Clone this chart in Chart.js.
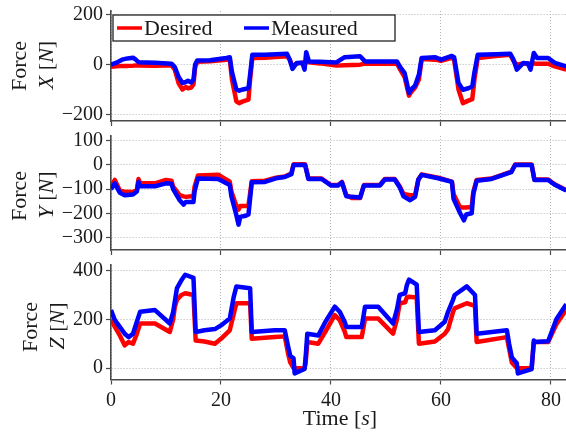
<!DOCTYPE html>
<html>
<head>
<meta charset="utf-8">
<script src="https://cdn.jsdelivr.net/npm/chart.js@4.4.1/dist/chart.umd.min.js"></script>
<style>
  html, body { margin: 0; padding: 0; background: #fff; }
  #wrap { position: relative; width: 566px; height: 433px; }
  #wrap canvas { position: absolute; left: 0; top: 0; }
</style>
</head>
<body>
<div id="wrap">
  <canvas id="chartX" width="566" height="433"></canvas>
  <canvas id="chartY" width="566" height="433"></canvas>
  <canvas id="chartZ" width="566" height="433"></canvas>
</div>
<script>
// ---- data (time in s, force in N) ----
const timeX = [0, 1, 2, 3, 4, 4.5, 5, 8, 11, 11.6, 12.3, 13, 13.6, 14, 14.6, 15, 15.3, 15.7, 18, 21, 21.6, 22, 22.8, 23.3, 24, 25, 25.3, 25.7, 28, 32, 32.5, 33, 33.8, 34.8, 35.2, 35.5, 36, 38, 41, 42.5, 45.3, 46.2, 52, 52.6, 53.4, 54.2, 54.6, 55.3, 56, 56.5, 59, 60, 62, 62.4, 63.2, 64, 65, 65.7, 66.1, 66.7, 70, 72.6, 73.2, 73.8, 75, 75.8, 76.3, 76.9, 77.5, 79.5, 80.7, 82.8];
const desiredX = [-9, -7, -5, -5, -4, -3, -3, -5, -2, -20, -75, -100, -90, -95, -92, -80, -10, 12, 14, 20, 22, -60, -148, -155, -148, -141, -60, 27, 28, 34, 20, -7, 5, 8, 8, 10, 10, 5, -4, -2, 0, 4, 5, -20, -50, -125, -110, -92, -60, 23, 20, 15, 27, 20, -100, -155, -145, -139, -60, 27, 35, 40, 15, 0, 5, 5, 5, 5, 4, 4, -7, -20];
const measuredX = [0, 8, 20, 25, 28, 20, 10, 8, 4, -10, -50, -74, -70, -65, -72, -60, 0, 17, 18, 27, 30, -30, -100, -105, -100, -95, -40, 40, 40, 44, 20, -17, 7, 8, -20, 50, 13, 12, 9, 30, 34, 13, 13, -10, -34, -114, -100, -85, -40, 27, 30, 20, 35, 30, -74, -101, -95, -88, -30, 40, 42, 44, 20, -20, 7, 5, -20, 47, 27, 27, 7, -7];

const timeY = [0, 0.7, 1.6, 2.5, 4, 4.7, 5, 5.3, 8, 10, 11, 11.3, 12.5, 13.2, 13.6, 15, 15.2, 15.8, 19.5, 21.6, 21.9, 22.8, 23.2, 23.5, 24.5, 25, 25.6, 28, 30, 31.6, 32.8, 33.2, 35.3, 35.9, 38.3, 40, 41.3, 42, 42.8, 43.8, 45.3, 46, 48.9, 49.8, 51.6, 52.5, 53.2, 54.4, 55.3, 55.9, 56.5, 59.5, 62, 62.3, 63.5, 64.2, 64.6, 65.6, 65.9, 66.5, 69.2, 72.8, 73.5, 76.5, 77, 79.5, 80.7, 82.8];
const desiredY = [-88, -62, -105, -111, -112, -104, -58, -76, -76, -62, -65, -90, -125, -130, -132, -128, -90, -44, -40, -69, -110, -170, -185, -170, -170, -168, -67, -65, -53, -48, -35, 3, 3, -56, -56, -83, -83, -70, -125, -137, -137, -83, -83, -58, -58, -88, -120, -125, -125, -60, -39, -53, -69, -120, -176, -176, -176, -174, -110, -62, -56, -28, 2, 2, -60, -60, -80, -104];
const measuredY = [-100, -76, -115, -125, -122, -110, -70, -88, -88, -76, -78, -100, -146, -164, -153, -153, -110, -56, -58, -83, -130, -208, -247, -215, -210, -205, -72, -70, -55, -50, -38, 0, 0, -58, -58, -85, -85, -72, -130, -132, -135, -85, -85, -60, -60, -92, -130, -146, -132, -60, -41, -55, -70, -140, -200, -229, -205, -200, -120, -65, -58, -30, 0, 0, -62, -62, -82, -106];

const timeZ = [0, 0.7, 1.6, 2.5, 3.2, 4, 4.7, 5.3, 8, 10.7, 11.3, 11.6, 12, 12.8, 13.5, 15, 15.4, 17, 18.9, 20, 21.6, 22.3, 22.8, 25.3, 25.6, 29.8, 31.6, 32.2, 32.6, 33.2, 33.4, 35.2, 35.4, 35.7, 37.7, 39, 40.7, 41.6, 42.5, 42.8, 45.6, 46.2, 48.6, 51.3, 52, 52.5, 53.5, 53.8, 54.2, 55.6, 56, 58.9, 60.7, 61.3, 62.2, 62.5, 64.7, 66.2, 66.5, 72, 72.4, 72.9, 73.8, 74, 76.5, 76.9, 77.1, 79.5, 81, 82.8];
const desiredZ = [200, 169, 134, 93, 107, 100, 140, 183, 183, 148, 200, 250, 280, 300, 307, 300, 113, 109, 100, 120, 155, 220, 266, 266, 120, 127, 130, 60, 23, 0, -1, -1, 20, 107, 100, 150, 217, 197, 150, 127, 127, 203, 203, 141, 200, 266, 270, 290, 293, 290, 100, 109, 141, 160, 230, 245, 266, 255, 107, 127, 80, 23, 0, -1, 0, 107, 107, 107, 180, 240];
const measuredZ = [238, 197, 169, 141, 127, 141, 190, 231, 238, 183, 230, 273, 328, 360, 383, 370, 148, 155, 160, 175, 203, 290, 335, 328, 148, 155, 155, 90, 50, 40, -22, -4, 44, 141, 134, 190, 252, 231, 190, 169, 169, 252, 252, 183, 240, 300, 307, 340, 363, 342, 148, 155, 190, 231, 280, 300, 335, 300, 141, 155, 100, 44, 20, -22, -4, 113, 107, 110, 200, 262];

const xTicks = [0, 20, 40, 60, 80];
const yTicksX = [-200, 0, 200];
const yTicksY = [-300, -200, -100, 0, 100];
const yTicksZ = [0, 200, 400];
const seriesNames = ['Desired', 'Measured'];

const FONT = '"Liberation Serif", "Times New Roman", serif';
const TEXT = '#1a1a1a';
const AXIS = '#4a4a4a';
const GRID = '#b4b4b4';
const RED = '#ff0000';
const BLUE = '#0000ff';
const W = 566, H = 433;
const PLOT_LEFT = 111;

function pairs(t, v) {
  return t.map((x, i) => ({ x: x, y: v[i] }));
}

function minusLabel(v) {
  return v < 0 ? '\u2212' + Math.abs(v) : String(v);
}

// draws a label made of upright/italic pieces, centred on (cx, cy)
function drawParts(ctx, parts, cx, cy, angle, size) {
  ctx.save();
  ctx.translate(cx, cy);
  ctx.rotate(angle);
  ctx.textBaseline = 'middle';
  ctx.textAlign = 'left';
  ctx.fillStyle = TEXT;
  const fonts = parts.map(p => (p[1] ? 'italic ' : '') + size + 'px ' + FONT);
  let total = 0;
  parts.forEach((p, k) => { ctx.font = fonts[k]; total += ctx.measureText(p[0]).width; });
  let x = -total / 2;
  parts.forEach((p, k) => { ctx.font = fonts[k]; ctx.fillText(p[0], x, 0); x += ctx.measureText(p[0]).width; });
  ctx.restore();
}

const labelPlugin = {
  id: 'labels',
  afterDraw(chart) {
    const ctx = chart.ctx;
    const o = chart.options.plugins.labels;
    (o.items || []).forEach(it => drawParts(ctx, it.parts, it.x, it.y, it.angle || 0, it.size));
    if (o.legend) {
      const b = o.legend;
      ctx.save();
      ctx.fillStyle = '#fff';
      ctx.fillRect(b.x, b.y, b.w, b.h);
      ctx.strokeStyle = '#222';
      ctx.lineWidth = 1.3;
      ctx.strokeRect(b.x, b.y, b.w, b.h);
      const cy = b.y + b.h / 2;
      const ds = chart.data.datasets;
      const order = [1, 0];
      const lx = [b.x + 4, b.x + 131];
      order.forEach((di, k) => {
        ctx.strokeStyle = ds[di].borderColor;
        ctx.lineWidth = 3.5;
        ctx.beginPath();
        ctx.moveTo(lx[k], cy);
        ctx.lineTo(lx[k] + 25, cy);
        ctx.stroke();
        ctx.fillStyle = TEXT;
        ctx.font = '22px ' + FONT;
        ctx.textBaseline = 'middle';
        ctx.textAlign = 'left';
        ctx.fillText(ds[di].label, lx[k] + 27, cy + 1);
      });
      ctx.restore();
    }
  }
};

function makeChart(id, p) {
  const axisH = p.xLabels ? 40 : 6;
  return new Chart(document.getElementById(id), {
    type: 'line',
    data: {
      datasets: [
        { label: seriesNames[1], data: pairs(p.t, p.meas), borderColor: BLUE, borderWidth: 4.5, pointRadius: 0, tension: 0, borderJoinStyle: 'round', order: 0 },
        { label: seriesNames[0], data: pairs(p.t, p.des), borderColor: RED, borderWidth: 4.5, pointRadius: 0, tension: 0, borderJoinStyle: 'round', order: 1 }
      ]
    },
    options: {
      responsive: false,
      animation: false,
      events: [],
      layout: { padding: { left: 0, right: 0, top: p.top, bottom: H - p.bottom - axisH } },
      scales: {
        x: {
          type: 'linear',
          min: 0,
          max: 82.75,
          afterBuildTicks: s => { s.ticks = xTicks.map(v => ({ value: v })); },
          afterFit: s => { s.height = axisH; s.paddingLeft = 0; s.paddingRight = 0; },
          grid: { color: GRID, lineWidth: 1, tickLength: 5, tickColor: AXIS, tickWidth: 1.2, tickBorderDash: [] },
          border: { color: AXIS, width: 1.6, dash: [1, 2] },
          ticks: { display: p.xLabels, color: TEXT, font: { family: FONT, size: 20 }, padding: 4, maxRotation: 0 }
        },
        y: {
          type: 'linear',
          min: p.yMin,
          max: p.yMax,
          afterBuildTicks: s => { s.ticks = p.yTicks.map(v => ({ value: v })); },
          afterFit: s => { s.width = PLOT_LEFT; s.paddingTop = 0; s.paddingBottom = 0; },
          grid: { color: GRID, lineWidth: 1, tickLength: 5, tickColor: AXIS, tickWidth: 1.2, tickBorderDash: [] },
          border: { color: AXIS, width: 1.6, dash: [1, 2] },
          ticks: { color: TEXT, font: { family: FONT, size: 20 }, padding: 3, callback: minusLabel }
        }
      },
      plugins: {
        legend: { display: false },
        tooltip: { enabled: false },
        labels: { items: p.items, legend: p.legend }
      }
    },
    plugins: [labelPlugin]
  });
}

const up = -Math.PI / 2;

makeChart('chartX', {
  t: timeX, des: desiredX, meas: measuredX,
  top: 11, bottom: 121, yMin: -227, yMax: 216, yTicks: yTicksX, xLabels: false,
  items: [
    { parts: [['Force', false]], x: 20, y: 66, angle: up, size: 22 },
    { parts: [['X', true], [' [', false], ['N', true], [']', false]], x: 47, y: 65, angle: up, size: 22 }
  ],
  legend: { x: 113, y: 15, w: 282, h: 26 }
});

makeChart('chartY', {
  t: timeY, des: desiredY, meas: measuredY,
  top: 136, bottom: 250, yMin: -352, yMax: 120, yTicks: yTicksY, xLabels: false,
  items: [
    { parts: [['Force', false]], x: 20, y: 196, angle: up, size: 22 },
    { parts: [['Y', true], [' [', false], ['N', true], [']', false]], x: 47, y: 195, angle: up, size: 22 }
  ]
});

makeChart('chartZ', {
  t: timeZ, des: desiredZ, meas: measuredZ,
  top: 265, bottom: 379.5, yMin: -47, yMax: 423, yTicks: yTicksZ, xLabels: true,
  items: [
    { parts: [['Force', false]], x: 31, y: 327, angle: up, size: 22 },
    { parts: [['Z', true], [' [', false], ['N', true], [']', false]], x: 58, y: 326, angle: up, size: 22 },
    { parts: [['Time ', false], ['[', false], ['s', true], [']', false]], x: 340, y: 419, angle: 0, size: 22 }
  ]
});
</script>
</body>
</html>
